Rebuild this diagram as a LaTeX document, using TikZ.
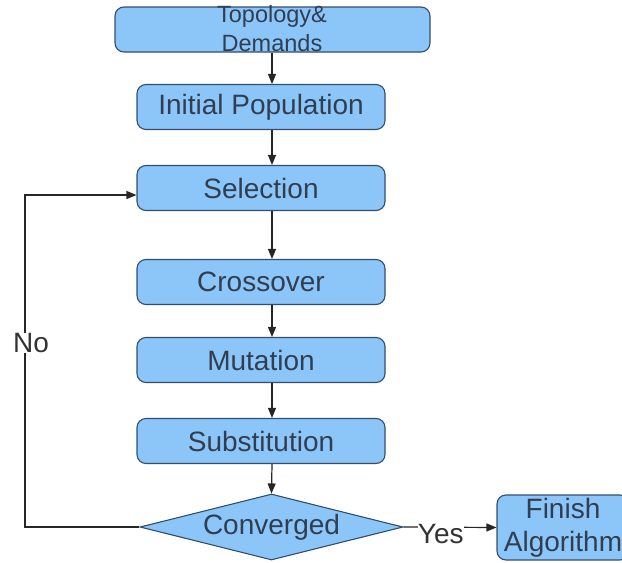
\documentclass[tikz,border=0pt]{standalone}
\usepackage{fontspec}
\setmainfont{Liberation Sans}
\usetikzlibrary{arrows.meta,positioning,shapes.geometric}

\definecolor{boxfill}{RGB}{140,198,248}
\definecolor{boxline}{RGB}{50,78,108}
\definecolor{boxtext}{RGB}{48,62,82}

\tikzset{
  proc/.style={draw=boxline, fill=boxfill, line width=1.1pt, rounded corners=9pt,
    minimum width=248pt, minimum height=45pt, inner sep=0pt,
    text=boxtext, font=\fontsize{28}{33}\selectfont, align=center},
  decide/.style={draw=boxline, fill=boxfill, line width=1.1pt, diamond, aspect=4,
    minimum width=263pt, minimum height=66pt, inner sep=0pt,
    text=boxtext, font=\fontsize{28}{33}\selectfont},
  flow/.style={draw=black!85, line width=1.2pt, -{Triangle[length=10pt,width=8pt]}},
  answer/.style={fill=white, inner sep=0pt, text=black!80, font=\fontsize{28}{33}\selectfont}
}

\begin{document}
\begin{tikzpicture}[x=1pt,y=-1pt]
\useasboundingbox (0,0) rectangle (622,563);
\coordinate (axis) at (272,0);
\node[proc, minimum width=315pt] (topo) at (272.5,29.5) {};
\node[text=boxtext, font=\fontsize{23.5}{29}\selectfont, align=center, inner sep=0pt] (topotxt) at (272,29) {Topology\&\\Demands};
\node[proc] (init) at (261,107) {Initial Population};
\node[proc] (sel) at (261,188) {Selection};
\node[proc] (cross) at (261,282) {Crossover};
\node[proc] (mut) at (261,360) {Mutation};
\node[proc] (sub) at (261,441) {Substitution};
\node[decide] (conv) at (271.5,527) {Converged};
\node[proc, minimum width=132pt, minimum height=65pt] (fin) at (563,527.5) {Finish\\Algorithm};

\draw[flow] (topo.south -| axis) -- (init.north -| axis);
\draw[flow] (init.south -| axis) -- (sel.north -| axis);
\draw[flow] (sel.south -| axis) -- (cross.north -| axis);
\draw[flow] (cross.south -| axis) -- (mut.north -| axis);
\draw[flow] (mut.south -| axis) -- (sub.north -| axis);
\draw[flow] (sub.south -| axis) -- (conv.north);
\draw[flow] (conv.east) -- node[answer, pos=0.4, yshift=-7pt] {Yes} (fin.west);

\coordinate (noturn) at (25,195);
\draw[flow] (conv.west) -| node[answer, pos=0.777, xshift=6pt] {No} (noturn) -- (sel.west |- noturn);
\end{tikzpicture}
\end{document}
